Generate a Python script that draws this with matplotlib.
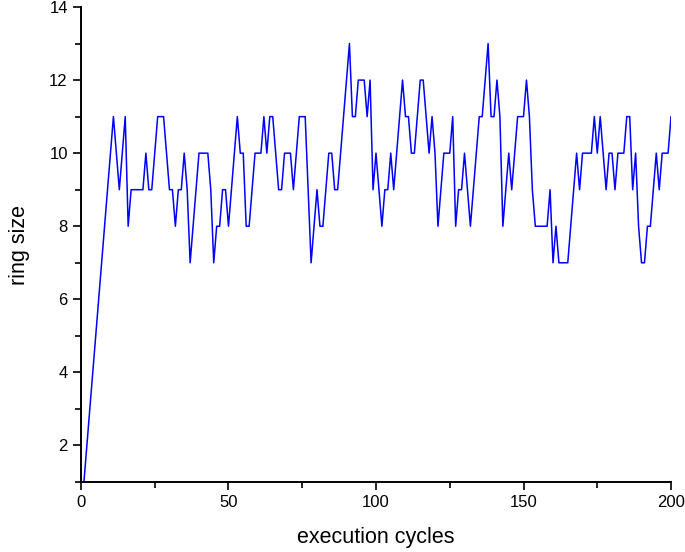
import numpy as np
import matplotlib
matplotlib.use('Agg')
import matplotlib.pyplot as plt
from matplotlib.ticker import MultipleLocator

plt.rcParams['font.family'] = ['Liberation Sans', 'DejaVu Sans']

# Datos: tamano del anillo por ciclo
cycles = np.arange(1, 201)
ring_size = [
    1, 2, 3, 4, 5, 6, 7, 8, 9, 10,
    11, 10, 9, 10, 11, 8, 9, 9, 9, 9,
    9, 10, 9, 9, 10, 11, 11, 11, 10, 9,
    9, 8, 9, 9, 10, 9, 7, 8, 9, 10,
    10, 10, 10, 9, 7, 8, 8, 9, 9, 8,
    9, 10, 11, 10, 10, 8, 8, 9, 10, 10,
    10, 11, 10, 11, 11, 10, 9, 9, 10, 10,
    10, 9, 10, 11, 11, 11, 9, 7, 8, 9,
    8, 8, 9, 10, 10, 9, 9, 10, 11, 12,
    13, 11, 11, 12, 12, 12, 11, 12, 9, 10,
    9, 8, 9, 9, 10, 9, 10, 11, 12, 11,
    11, 10, 10, 11, 12, 12, 11, 10, 11, 10,
    8, 9, 10, 10, 10, 11, 8, 9, 9, 10,
    9, 8, 9, 10, 11, 11, 12, 13, 11, 11,
    12, 11, 8, 9, 10, 9, 10, 11, 11, 11,
    12, 11, 9, 8, 8, 8, 8, 8, 9, 7,
    8, 7, 7, 7, 7, 8, 9, 10, 9, 10,
    10, 10, 10, 11, 10, 11, 10, 9, 10, 10,
    9, 10, 10, 10, 11, 11, 9, 10, 8, 7,
    7, 8, 8, 9, 10, 9, 10, 10, 10, 11,
]

fig = plt.figure(figsize=(6.85, 5.52), dpi=100)
ax = fig.add_axes([0.1182, 0.1268, 0.8614, 0.8605])

ax.plot(cycles, ring_size, color='#0000ff', linewidth=1.1)

ax.set_xlim(0, 200)
ax.set_ylim(1, 14)
ax.xaxis.set_major_locator(MultipleLocator(50))
ax.xaxis.set_minor_locator(MultipleLocator(25))
ax.yaxis.set_major_locator(MultipleLocator(2))
ax.yaxis.set_minor_locator(MultipleLocator(1))

ax.spines['top'].set_visible(False)
ax.spines['right'].set_visible(False)
for s in ['left', 'bottom']:
    ax.spines[s].set_linewidth(1.4)

ax.tick_params(which='major', direction='out', length=6, width=1.2, labelsize=12)
ax.tick_params(which='minor', direction='out', length=4, width=1.2)

ax.set_xlabel('execution cycles', fontsize=15.5, labelpad=12)
ax.set_ylabel('ring size', fontsize=15.5, labelpad=14)

plt.savefig('out.png', dpi=100)
